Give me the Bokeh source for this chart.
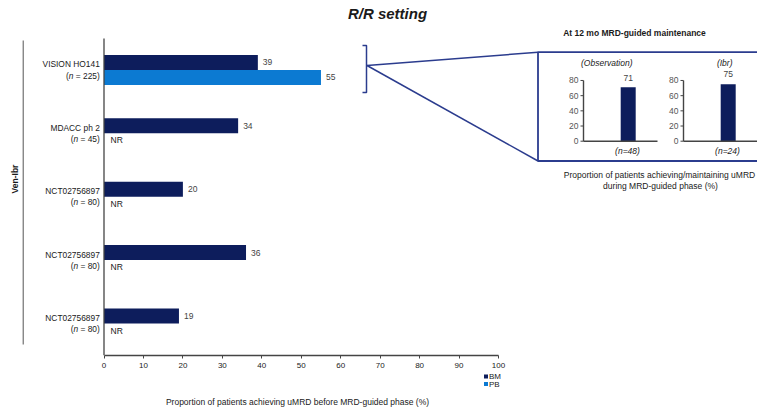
import numpy as np
from bokeh.plotting import figure
from bokeh.layouts import column
from bokeh.models import Range1d, FixedTicker
from bokeh.core.properties import value
from bokeh.embed import file_html
from bokeh.resources import INLINE

# ---------------- data ----------------
studies = ["VISION HO141", "MDACC ph 2", "NCT02756897", "NCT02756897", "NCT02756897"]
study_n = [225, 45, 80, 80, 80]
bm_pct = [39, 34, 20, 36, 19]          # bone marrow uMRD (%)
pb_pct = [55, None, None, None, None]  # peripheral blood uMRD (%), None = NR
x_ticks = [0, 10, 20, 30, 40, 50, 60, 70, 80, 90, 100]
series = ["BM", "PB"]

arms = ["(Observation)", "(Ibr)"]
arm_n = [48, 24]
arm_pct = [71, 75]
arm_ticks = [0, 20, 40, 60, 80]

# ---------------- styling ----------------
FONT = "Liberation Sans"
BM_COLOR = "#0d1d5c"
PB_COLOR = "#0c7ad2"
SERIES_COLORS = [BM_COLOR, PB_COLOR]
NAVY_LINE = "#2b3c8e"
AXIS_COLOR = "#444444"
TEXT = "#1a1a1a"
VAL_TEXT = "#444444"

W, H = 757, 410
FRAME_BOTTOM = 355
MAIN_H = 372          # chart with axis ticks; the strip below holds legend + axis title

# main panel scale: pixel positions of 0% and px per %, row centre and px per row
X0, XS = 103.5, 3.945
Y0, YS = 69.4, 63.4
# inset scale: x axis of first inset at IX0, one inset per IXS px; 0% at IY0
IX0, IXS = 583.0, 100.0
IY0, IYS = 140.7, 0.759


def mx(px):
    return (px - X0) / XS


def my(py):
    return (py - Y0) / YS


def ix(px):
    return (px - IX0) / IXS


def iy(py):
    return (IY0 - py) / IYS


# Arial/Liberation Sans advance widths (em) for the "(n = ...)" labels
ADV = {" ": 0.278, "=": 0.584, ")": 0.333, "(": 0.333, "n": 0.556}
for d in "0123456789":
    ADV[d] = 0.556


def text_width(s, size):
    return sum(ADV[c] for c in s) * size


x_range = Range1d(mx(0), mx(W))

p = figure(
    width=W, height=MAIN_H, output_backend="svg", toolbar_location=None, title=None,
    x_range=x_range, y_range=Range1d(my(FRAME_BOTTOM), my(0)),
    y_axis_location=None,
    min_border_left=0, min_border_right=0, min_border_top=0,
    min_border_bottom=MAIN_H - FRAME_BOTTOM,
    outline_line_color=None,
)
p.extra_x_ranges = {"ins_x": Range1d(ix(0), ix(W))}
p.extra_y_ranges = {"ins_y": Range1d(iy(FRAME_BOTTOM), iy(0))}
p.grid.visible = False

# ---------------- main horizontal bars ----------------
rows = np.arange(len(studies))
OFF = 7.5 / YS
BAR_H = 15 / YS

p.hbar(y=rows - OFF, left=0, right=bm_pct, height=BAR_H,
       fill_color=BM_COLOR, line_color=None)
pb_rows = [i for i, v in enumerate(pb_pct) if v is not None]
pb_vals = [pb_pct[i] for i in pb_rows]
p.hbar(y=[i + OFF for i in pb_rows], left=0, right=pb_vals, height=BAR_H,
       fill_color=PB_COLOR, line_color=None)

p.text(x=bm_pct, y=rows - OFF, text=[str(v) for v in bm_pct], x_offset=5,
       text_font=value(FONT), text_font_size="8.5px", text_color=VAL_TEXT,
       text_align="left", text_baseline="middle")
p.text(x=pb_vals, y=[i + OFF for i in pb_rows], text=[str(v) for v in pb_vals], x_offset=5,
       text_font=value(FONT), text_font_size="8.5px", text_color=VAL_TEXT,
       text_align="left", text_baseline="middle")

nr_rows = [i for i, v in enumerate(pb_pct) if v is None]
p.text(x=[0] * len(nr_rows), y=[i + 7.0 / YS for i in nr_rows], text=["NR"] * len(nr_rows),
       x_offset=6.5, text_font=value(FONT), text_font_size="8.5px", text_color=TEXT,
       text_align="left", text_baseline="middle")

# study labels, two lines, with italic n
LBL_SIZE = 8.4
LBL_X = -4.2
p.text(x=[0] * len(studies), y=rows - 5.6 / YS, text=studies, x_offset=LBL_X,
       text_font=value(FONT), text_font_size=f"{LBL_SIZE}px", text_color=TEXT,
       text_align="right", text_baseline="middle")
for i, n in enumerate(study_n):
    tail = f"= {n})"
    w_tail = text_width(tail, LBL_SIZE) + text_width(" ", LBL_SIZE)
    w_n = text_width("n", LBL_SIZE)
    yy = [i + 5.6 / YS]
    p.text(x=[0], y=yy, text=[tail], x_offset=LBL_X,
           text_font=value(FONT), text_font_size=f"{LBL_SIZE}px", text_color=TEXT,
           text_align="right", text_baseline="middle")
    p.text(x=[0], y=yy, text=["n"], x_offset=LBL_X - w_tail,
           text_font=value(FONT), text_font_size=f"{LBL_SIZE}px", text_color=TEXT,
           text_font_style="italic", text_align="right", text_baseline="middle")
    p.text(x=[0], y=yy, text=["("], x_offset=LBL_X - w_tail - w_n,
           text_font=value(FONT), text_font_size=f"{LBL_SIZE}px", text_color=TEXT,
           text_align="right", text_baseline="middle")

# y axis line and the regimen bracket
p.segment(x0=[0], y0=[my(38)], x1=[0], y1=[my(FRAME_BOTTOM)], line_color=AXIS_COLOR, line_width=1.3)
p.segment(x0=[mx(22.7)], y0=[my(40)], x1=[mx(22.7)], y1=[my(344)], line_color="#555555", line_width=1)
p.text(x=[mx(14)], y=[my(178.5)], text=["Ven-Ibr"], angle=np.pi / 2,
       text_font=value(FONT), text_font_size="8.5px", text_font_style="bold",
       text_color=TEXT, text_align="center", text_baseline="middle")

# title
p.text(x=[mx(387)], y=[my(12.7)], text=["R/R setting"],
       text_font=value(FONT), text_font_size="15px", text_font_style="bold italic",
       text_color=TEXT, text_align="center", text_baseline="middle")

# x axis
ax = p.xaxis[0]
ax.ticker = FixedTicker(ticks=x_ticks)
ax.bounds = (0, 100)
ax.minor_tick_line_color = None
ax.major_tick_out = 3
ax.major_tick_in = 0
ax.axis_line_color = AXIS_COLOR
ax.axis_line_width = 1.3
ax.major_tick_line_color = AXIS_COLOR
ax.major_label_standoff = 4
ax.major_label_text_font = FONT
ax.major_label_text_font_size = "8px"
ax.major_label_text_color = TEXT

# ---------------- zoom connector and inset box ----------------
p.multi_line(xs=[[mx(362), mx(366), mx(366), mx(362)]],
             ys=[[my(45), my(45), my(92), my(92)]], line_color=NAVY_LINE, line_width=1.5)
p.segment(x0=[mx(366.5), mx(366.5)], y0=[my(65), my(65)],
          x1=[mx(537.5), mx(537.5)], y1=[my(51.7), my(160.5)],
          line_color=NAVY_LINE, line_width=1.5)
p.multi_line(xs=[[mx(W + 5), mx(537.5), mx(537.5), mx(W + 5)]],
             ys=[[my(51.7), my(51.7), my(160.5), my(160.5)]], line_color=NAVY_LINE, line_width=1.8)

p.text(x=[mx(634)], y=[my(32.7)], text=["At 12 mo MRD-guided maintenance"],
       text_font=value(FONT), text_font_size="8.5px", text_font_style="bold",
       text_color=TEXT, text_align="center", text_baseline="middle")
p.text(x=[mx(659), mx(660)], y=[my(174), my(185)],
       text=["Proportion of patients achieving/maintaining uMRD", "during MRD-guided phase (%)"],
       text_font=value(FONT), text_font_size="8.5px", text_color=TEXT,
       text_align="center", text_baseline="middle")

# ---------------- inset bar charts ----------------
arm_idx = np.arange(len(arms))
BAR_POS = 0.447
INS = dict(x_range_name="ins_x", y_range_name="ins_y")
p.vbar(x=arm_idx + BAR_POS, bottom=0, top=arm_pct, width=0.15,
       fill_color=BM_COLOR, line_color=None, **INS)
p.text(x=arm_idx + BAR_POS, y=[v + 9.8 / IYS for v in arm_pct], text=[str(v) for v in arm_pct],
       text_font=value(FONT), text_font_size="8.5px", text_color=VAL_TEXT,
       text_align="center", text_baseline="middle", **INS)

top_tick = max(arm_ticks)
for k in arm_idx:
    p.segment(x0=[k], y0=[0], x1=[k], y1=[top_tick], line_color=AXIS_COLOR, line_width=1.4, **INS)
    p.segment(x0=[k], y0=[0], x1=[k + 0.74], y1=[0], line_color=AXIS_COLOR, line_width=1.4, **INS)
    p.segment(x0=[k] * len(arm_ticks), y0=arm_ticks, x1=[k - 0.03] * len(arm_ticks), y1=arm_ticks,
              line_color=AXIS_COLOR, line_width=1, **INS)
    p.text(x=[k] * len(arm_ticks), y=arm_ticks, text=[str(t) for t in arm_ticks], x_offset=-5,
           text_font=value(FONT), text_font_size="8.5px", text_color="#555555",
           text_align="right", text_baseline="middle", **INS)

p.text(x=arm_idx + 0.49, y=[iy(62.7)] * len(arms), text=arms,
       text_font=value(FONT), text_font_size="8.5px", text_font_style="italic",
       text_color=TEXT, text_align="right", text_baseline="middle", **INS)
p.text(x=arm_idx + 0.44, y=[iy(150.5)] * len(arms), text=[f"(n={n})" for n in arm_n],
       text_font=value(FONT), text_font_size="8.5px", text_font_style="italic",
       text_color=TEXT, text_align="center", text_baseline="middle", **INS)

# ---------------- strip below the axis: series key and axis title ----------------
# y range in canvas pixel rows so the strip lines up with the chart above
strip = figure(
    width=W, height=H - MAIN_H, output_backend="svg", toolbar_location=None, title=None,
    x_range=x_range, y_range=Range1d(H, MAIN_H),
    x_axis_location=None, y_axis_location=None, min_border=0, outline_line_color=None,
)
strip.grid.visible = False

key_rows = [376.0, 383.5]
strip.scatter(x=[mx(485.5)] * len(series), y=key_rows, marker="square", size=4,
              fill_color=SERIES_COLORS, line_color=None)
strip.text(x=[mx(488.5)] * len(series), y=key_rows, text=series,
           text_font=value(FONT), text_font_size="8px", text_color=TEXT,
           text_align="left", text_baseline="middle")
strip.text(x=[mx(297)], y=[401], text=["Proportion of patients achieving uMRD before MRD-guided phase (%)"],
           text_font=value(FONT), text_font_size="8.5px", text_color=TEXT,
           text_align="center", text_baseline="middle")

open("out.html", "w").write(file_html(column(p, strip, spacing=0), INLINE))
